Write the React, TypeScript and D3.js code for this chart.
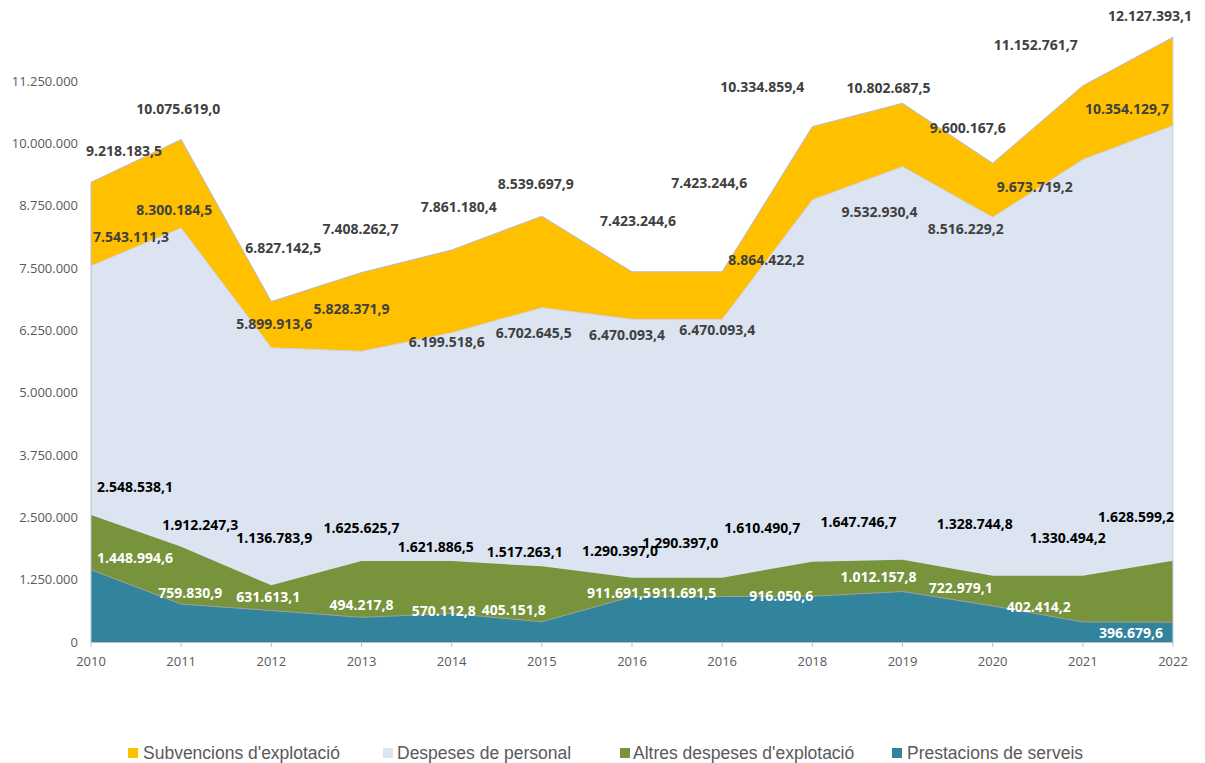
import React from "react";
import * as d3 from "d3";

// Categories (years as shown in the original, incl. the duplicated 2016)
const years: string[] = ["2010", "2011", "2012", "2013", "2014", "2015", "2016", "2016", "2018", "2019", "2020", "2021", "2022"];

// Cumulative (stacked) top values of each series, as labelled in the chart
const prestacions: number[] = [1448994.6, 759830.9, 631613.1, 494217.8, 570112.8, 405151.8, 911691.5, 911691.5, 916050.6, 1012157.8, 722979.1, 402414.2, 396679.6];
const altres: number[] = [2548538.1, 1912247.3, 1136783.9, 1625625.7, 1621886.5, 1517263.1, 1290397.0, 1290397.0, 1610490.7, 1647746.7, 1328744.8, 1330494.2, 1628599.2];
const personal: number[] = [7543111.3, 8300184.5, 5899913.6, 5828371.9, 6199518.6, 6702645.5, 6470093.4, 6470093.4, 8864422.2, 9532930.4, 8516229.2, 9673719.2, 10354129.7];
const subvencions: number[] = [9218183.5, 10075619.0, 6827142.5, 7408262.7, 7861180.4, 8539697.9, 7423244.6, 7423244.6, 10334859.4, 10802687.5, 9600167.6, 11152761.7, 12127393.1];

const yTicks: number[] = [0, 1250000, 2500000, 3750000, 5000000, 6250000, 7500000, 8750000, 10000000, 11250000];

const seriesNames: string[] = ["Subvencions d'explotació", "Despeses de personal", "Altres despeses d'explotació", "Prestacions de serveis"];

// Layout: manual label nudges (px) reproducing the hand-placed labels
const nudgeSub: [number, number][] = [[33, -31], [-3, -31], [12, -54], [-1, -44], [7, -43], [-6, -32], [6, -51], [-13, -89], [-50, -40], [-14, -15], [-25, -35], [-47, -41], [-23, -21]];
const nudgePers: [number, number][] = [[40, -29], [-7, -18], [3, -24], [-10, -42], [-5, 9], [-8, 25], [-5, 16], [-5, 11], [-46, 60], [-23, 45], [-27, 12], [-48, 27], [-46, -17]];
const nudgeAlt: [number, number][] = [[44, -28], [19, -22], [3, -47], [0, -33], [-16, -14], [-17, -14], [-12, -27], [-42, -35], [-50, -34], [-44, -38], [-18, -52], [-15, -38], [-37, -44]];
const nudgePrest: [number, number][] = [[44, -12], [9, -11], [-3, -14], [0, -12], [-8, -3], [-28, -12], [-13, -4], [-38, -4], [-31, 0], [-24, -15], [-32, -18], [-44, -15], [-42, 11]];

const W = 1205;
const H = 763;
const X0 = 91;
const X1 = 1173;
const Y0 = 642;

const fmtLocale = d3.formatLocale({ decimal: ",", thousands: ".", grouping: [3], currency: ["", "€"] });
const fmtTick = fmtLocale.format(",.0f");
const fmtLabel = fmtLocale.format(",.1f");

export default function App() {
  const idx = years.map((_, i) => i);
  const x = d3.scaleLinear().domain([0, years.length - 1]).range([X0, X1]);
  const y = d3.scaleLinear().domain([0, 11250000]).range([Y0, 81]);

  const zeros = years.map(() => 0);
  const layers = [
    { name: seriesNames[3], lower: zeros, upper: prestacions, fill: "#31849B", stroke: "#A0A0A0", label: "#FFFFFF", nudge: nudgePrest },
    { name: seriesNames[2], lower: prestacions, upper: altres, fill: "#77933C", stroke: "none", label: "#000000", nudge: nudgeAlt },
    { name: seriesNames[1], lower: altres, upper: personal, fill: "#DCE4F1", stroke: "#D2D2EA", label: "#404040", nudge: nudgePers },
    { name: seriesNames[0], lower: personal, upper: subvencions, fill: "#FFC000", stroke: "#B8B8DA", label: "#404040", nudge: nudgeSub },
  ];

  const areaFor = (lower: number[], upper: number[]) =>
    d3
      .area<number>()
      .x((i) => x(i))
      .y0((i) => y(lower[i]))
      .y1((i) => y(upper[i]))(idx) || "";

  const lineFor = (upper: number[]) =>
    d3
      .line<number>()
      .x((i) => x(i))
      .y((i) => y(upper[i]))(idx) || "";

  const legendItems = [
    { name: seriesNames[0], fill: "#FFC000", sx: 128, tx: 143 },
    { name: seriesNames[1], fill: "#DCE4F1", sx: 383, tx: 397 },
    { name: seriesNames[2], fill: "#77933C", sx: 620, tx: 633 },
    { name: seriesNames[3], fill: "#31849B", sx: 892, tx: 907 },
  ];

  return (
    <svg
      width={W}
      height={H}
      style={{ position: "absolute", left: 0, top: 0, background: "#fff" }}
      fontFamily="'Open Sans', sans-serif"
    >
      {layers
        .slice()
        .reverse()
        .map((l) => (
          <path key={"a" + l.name} d={areaFor(zeros, l.upper)} fill={l.fill} stroke="none" />
        ))}
      <path d={`M${x(0)},${y(subvencions[0])}L${x(0)},${Y0}`} stroke="#BDBDD6" strokeWidth={1} fill="none" />
      <path d={`M${x(years.length - 1)},${y(subvencions[years.length - 1])}L${x(years.length - 1)},${Y0}`} stroke="#D2D2EA" strokeWidth={1} fill="none" />
      {layers.map((l) =>
        l.stroke === "none" ? null : (
          <path key={"s" + l.name} d={lineFor(l.upper)} fill="none" stroke={l.stroke} strokeWidth={1} />
        )
      )}

      <line x1={X0} x2={X1} y1={Y0 + 0.5} y2={Y0 + 0.5} stroke="#BFBFBF" strokeWidth={1} />
      {idx.map((i) => (
        <line key={"t" + i} x1={x(i)} x2={x(i)} y1={Y0} y2={Y0 + 5} stroke="#BFBFBF" strokeWidth={1} />
      ))}
      {idx.map((i) => (
        <text key={"xl" + i} x={x(i)} y={666} textAnchor="middle" fontSize={13} fill="#595959">
          {years[i]}
        </text>
      ))}

      {yTicks.map((t) => (
        <text key={"yl" + t} x={78} y={y(t)} dy="0.35em" textAnchor="end" fontSize={13} fill="#595959">
          {fmtTick(t)}
        </text>
      ))}

      {layers.map((l) =>
        idx.map((i) => (
          <text
            key={"dl" + l.name + i}
            x={x(i) + l.nudge[i][0]}
            y={y(l.upper[i]) + l.nudge[i][1]}
            dy="0.36em"
            textAnchor="middle"
            fontSize={14}
            fontWeight="bold"
            fill={l.label}
          >
            {fmtLabel(l.upper[i])}
          </text>
        ))
      )}

      {legendItems.map((it) => (
        <g key={"lg" + it.name}>
          <rect x={it.sx} y={748} width={10} height={10} fill={it.fill} />
          <text x={it.tx} y={759} fontSize={17.5} fill="#595959" fontFamily="'Liberation Sans', Arial, sans-serif">
            {it.name}
          </text>
        </g>
      ))}
    </svg>
  );
}
